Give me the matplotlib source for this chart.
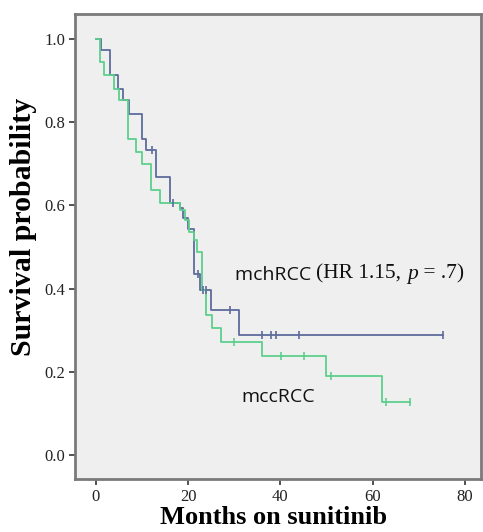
import matplotlib
matplotlib.use("Agg")
import matplotlib.pyplot as plt
import numpy as np

# mchRCC (blue) Kaplan-Meier steps
mch_times = [0, 1.1, 3.2, 4.9, 6.0, 7.3, 10.1, 11.0, 13.1, 16.2, 18.2, 19.0, 20.0, 21.2, 22.7, 24.9, 31.1, 75.3]
mch_surv = [1.0, 0.972, 0.912, 0.88, 0.852, 0.82, 0.76, 0.733, 0.667, 0.606, 0.593, 0.569, 0.543, 0.436, 0.398, 0.348, 0.29, 0.29]
mch_cens_t = [12.1, 16.8, 22.2, 23.3, 24.0, 29.1, 36.0, 38.0, 39.1, 44.1, 75.3]
mch_cens_s = [0.733, 0.606, 0.436, 0.398, 0.398, 0.348, 0.29, 0.29, 0.29, 0.29, 0.29]

# mccRCC (green) Kaplan-Meier steps
mcc_times = [0, 0.9, 1.8, 4.0, 5.1, 7.1, 8.7, 10.0, 11.9, 13.9, 18.2, 19.4, 20.3, 21.2, 22.0, 23.0, 23.9, 25.3, 27.1, 36.0, 50.0, 62.1, 68.1]
mcc_surv = [1.0, 0.944, 0.912, 0.88, 0.852, 0.76, 0.729, 0.699, 0.637, 0.606, 0.589, 0.565, 0.537, 0.517, 0.489, 0.397, 0.337, 0.305, 0.273, 0.239, 0.191, 0.129, 0.129]
mcc_cens_t = [30.0, 40.1, 45.1, 50.9, 63.0, 68.1]
mcc_cens_s = [0.273, 0.239, 0.239, 0.191, 0.129, 0.129]

x_ticks = [0, 20, 40, 60, 80]
y_ticks = [0.0, 0.2, 0.4, 0.6, 0.8, 1.0]

blue = "#5d6c9c"
green = "#5ccf8c"

fig = plt.figure(figsize=(4.83, 5.32), dpi=100)
ax = fig.add_axes([0.1553, 0.0996, 0.8406, 0.8741])
ax.set_facecolor("#efefef")

ax.step(mch_times, mch_surv, where="post", color=blue, lw=1.3)
ax.step(mcc_times, mcc_surv, where="post", color=green, lw=1.3)
ax.plot(mch_cens_t, mch_cens_s, ls="none", marker="|", ms=6, mew=1.2, color=blue)
ax.plot(mcc_cens_t, mcc_cens_s, ls="none", marker="|", ms=6, mew=1.2, color=green)

ax.set_xlim(-4.49, 83.5)
ax.set_ylim(-0.0564, 1.0588)
ax.set_xticks(x_ticks)
ax.set_yticks(y_ticks)
ax.set_xticklabels([str(t) for t in x_ticks], family="Liberation Serif", fontsize=12)
ax.set_yticklabels(["%.1f" % t for t in y_ticks], family="Liberation Serif", fontsize=12)
ax.tick_params(direction="out", length=4, width=1.3, color="#444444", labelcolor="#222222", pad=3)
for s in ax.spines.values():
    s.set_color("#7a7a7a")
    s.set_linewidth(2.0)

ax.set_xlabel("Months on sunitinib", family="Liberation Serif", fontweight="bold", fontsize=19)
ax.xaxis.set_label_coords(0.49, -0.058)
ax.set_ylabel("Survival probability", family="Liberation Serif", fontweight="bold", fontsize=21.5)
ax.yaxis.set_label_coords(-0.128, 0.542)
ax.yaxis.label.set_va("center")

# annotations
t1 = ax.text(30.2, 0.421, "mchRCC ", family="Open Sans", fontsize=14, va="baseline", ha="left", color="#111111")
t2 = ax.annotate("(HR 1.15, ", xy=(1, 0), xycoords=t1, family="Liberation Serif", fontsize=15.5, va="bottom", ha="left", color="#111111")
t3 = ax.annotate("p", xy=(1, 0), xycoords=t2, family="Liberation Serif", style="italic", fontsize=15.5, va="bottom", ha="left", color="#111111")
t4 = ax.annotate(" = .7)", xy=(1, 0), xycoords=t3, family="Liberation Serif", fontsize=15.5, va="bottom", ha="left", color="#111111")
ax.text(31.6, 0.129, "mccRCC", family="Open Sans", fontsize=14, va="baseline", ha="left", color="#111111")

fig.savefig("out.png", dpi=100, facecolor="white")
